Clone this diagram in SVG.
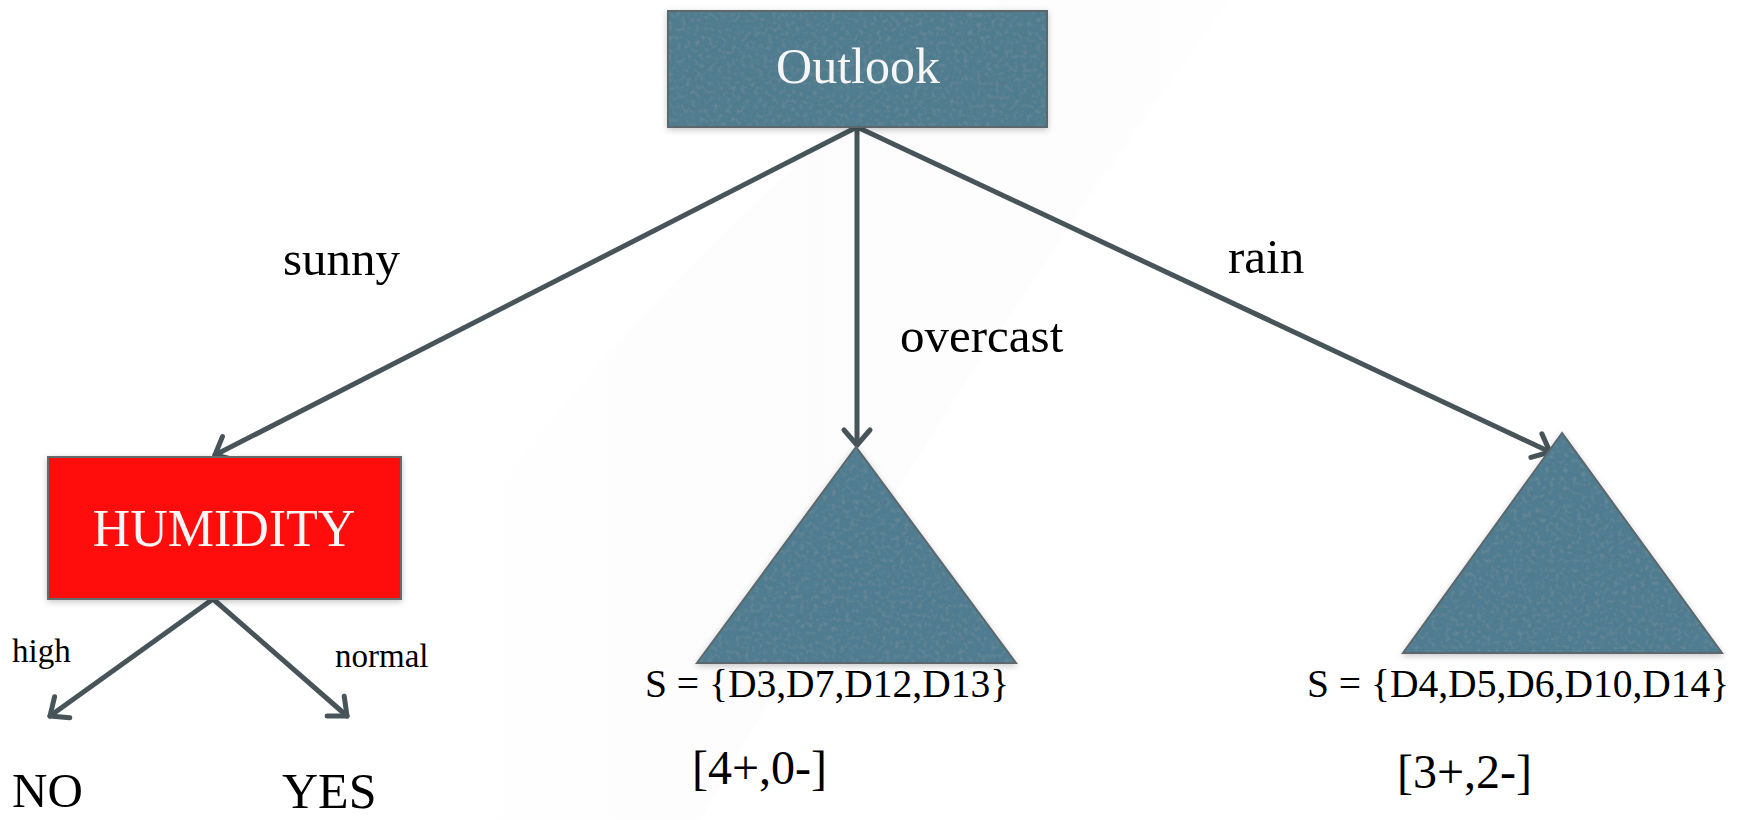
<svg xmlns="http://www.w3.org/2000/svg" width="1748" height="820" viewBox="0 0 1748 820">
<style>
.lbl{font-family:"Liberation Serif","Times New Roman",serif;fill:#000}
.wt{font-family:"Liberation Serif","Times New Roman",serif;fill:#f6f6f6}
.edge{stroke:#47555a;stroke-width:5;fill:none;stroke-linecap:round}
.blue{fill:#4f7b8e;stroke:#5b676c;stroke-width:2}
</style>
<defs>
<marker id="chev" markerUnits="userSpaceOnUse" viewBox="-24 -20 30 40" markerWidth="30" markerHeight="40" refX="0" refY="0" orient="auto">
<path d="M-15,-13 L0,0 L-15,13" fill="none" stroke="#47555a" stroke-width="5" stroke-linecap="round" stroke-linejoin="round"/>
</marker>
<filter id="tex" x="-5%" y="-5%" width="110%" height="110%">
<feTurbulence type="fractalNoise" baseFrequency="0.22" numOctaves="2" seed="3" result="n"/>
<feColorMatrix in="n" type="matrix" values="0 0 0 0 0.18  0 0 0 0 0.28  0 0 0 0 0.33  0 0 0 -1.4 0.75" result="sp"/>
<feComposite in="sp" in2="SourceGraphic" operator="in" result="sp2"/>
<feMerge><feMergeNode in="SourceGraphic"/><feMergeNode in="sp2"/></feMerge>
</filter>
<filter id="sh" x="-10%" y="-10%" width="120%" height="125%">
<feDropShadow dx="0" dy="2" stdDeviation="3" flood-color="#000" flood-opacity="0.22"/>
</filter>
<linearGradient id="bg" x1="0" y1="0" x2="1" y2="0">
<stop offset="0" stop-color="#f4f4f4" stop-opacity="0"/>
<stop offset="0.5" stop-color="#f3f3f3" stop-opacity="1"/>
<stop offset="1" stop-color="#f7f7f7" stop-opacity="0.6"/>
</linearGradient>
</defs>
<rect width="1748" height="820" fill="#ffffff"/>
<path d="M1000,0 L1230,0 Q950,380 700,820 L400,820 Q430,650 470,520 Q700,220 1000,0 Z" fill="url(#bg)" opacity="0.25"/>

<g id="connectors">
<line class="edge" x1="857" y1="127" x2="215" y2="455" marker-end="url(#chev)"/>
<line class="edge" x1="857" y1="127" x2="857" y2="445" marker-end="url(#chev)"/>
<line class="edge" x1="857" y1="127" x2="1550" y2="452" marker-end="url(#chev)"/>
<line class="edge" x1="213" y1="599" x2="50" y2="716" marker-end="url(#chev)"/>
<line class="edge" x1="213" y1="599" x2="347" y2="716" marker-end="url(#chev)"/>
<text class="lbl" x="283" y="275" font-size="49">sunny</text>
<text class="lbl" x="900" y="352" font-size="49">overcast</text>
<text class="lbl" x="1228" y="273" font-size="49">rain</text>
<text class="lbl" x="12" y="662" font-size="33">high</text>
<text class="lbl" x="335" y="667" font-size="33">normal</text>
</g>

<g id="outlook">
<rect class="blue" x="668" y="11" width="379" height="116" filter="url(#sh)"/>
<rect x="669" y="12" width="377" height="114" fill="#4f7b8e" filter="url(#tex)"/>
<text class="wt" x="858" y="83" font-size="50" text-anchor="middle">Outlook</text>
</g>

<g id="humidity">
<rect x="48" y="457" width="353" height="142" fill="#ff0808" stroke="#666b6d" stroke-width="2" filter="url(#sh)"/>
<text class="wt" x="224" y="546" font-size="52" text-anchor="middle" fill="#ffffff">HUMIDITY</text>
</g>

<g id="no">
<text class="lbl" x="12" y="807" font-size="49">NO</text>
</g>
<g id="yes">
<text class="lbl" x="282" y="808" font-size="50">YES</text>
</g>

<g id="overcast-leaf">
<polygon class="blue" points="856,447 697,663 1016,663" filter="url(#sh)"/>
<polygon points="856,449 699,662 1014,662" fill="#4f7c90" filter="url(#tex)"/>
<text class="lbl" x="645" y="697" font-size="39.5">S = {D3,D7,D12,D13}</text>
<text class="lbl" x="692" y="784" font-size="48">[4+,0-]</text>
</g>

<g id="rain-leaf">
<polygon class="blue" points="1562,433 1403,653 1722,653" filter="url(#sh)"/>
<polygon points="1562,435 1405,652 1720,652" fill="#4f7c90" filter="url(#tex)"/>
<text class="lbl" x="1307" y="697" font-size="39.5">S = {D4,D5,D6,D10,D14}</text>
<text class="lbl" x="1397" y="788" font-size="48">[3+,2-]</text>
</g>
</svg>
